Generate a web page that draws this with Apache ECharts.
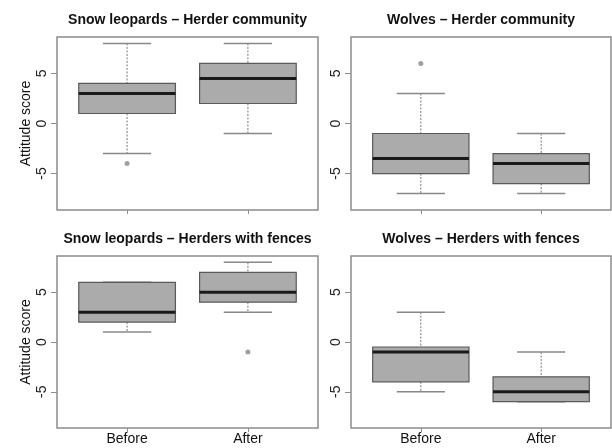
<!DOCTYPE html>
<html>
<head>
<meta charset="utf-8">
<script src="https://cdn.jsdelivr.net/npm/echarts@6/dist/echarts.min.js"></script>
<style>html,body{margin:0;padding:0;background:#fff}#c{width:612px;height:448px}</style>
</head>
<body>
<div id="c"></div>
<script>
// ---- data ----
const categories = ['Before', 'After'];
const panelTitles = [
  'Snow leopards – Herder community',
  'Wolves – Herder community',
  'Snow leopards – Herders with fences',
  'Wolves – Herders with fences'
];
const yTicks = [-5, 0, 5];
const yName = 'Attitude score';
// [lower whisker, Q1, median, Q3, upper whisker] for Before, After
const snowHerder   = [[-3, 1, 3, 4, 8], [-1, 2, 4.5, 6, 8]];
const wolvesHerder = [[-7, -5, -3.5, -1, 3], [-7, -6, -4, -3, -1]];
const snowFences   = [[1, 2, 3, 6, 6], [3, 4, 5, 7, 8]];
const wolvesFences = [[-5, -4, -1, -0.5, 3], [-6, -6, -5, -3.5, -1]];
// outliers [category position (1=Before, 2=After), value]
const snowHerderOut   = [[1, -4]];
const wolvesHerderOut = [[1, 6]];
const snowFencesOut   = [[2, -1]];
const wolvesFencesOut = [];

const panels = [
  {stats: snowHerder, out: snowHerderOut},
  {stats: wolvesHerder, out: wolvesHerderOut},
  {stats: snowFences, out: snowFencesOut},
  {stats: wolvesFences, out: wolvesFencesOut}
];

// ---- layout ----
const gridPos = [
  {left: 57, top: 37, width: 261, height: 173},
  {left: 351, top: 37, width: 260, height: 173},
  {left: 57, top: 256, width: 261, height: 172},
  {left: 351, top: 256, width: 260, height: 172}
];
const FONT = 'Liberation Sans, Arial, sans-serif';
const frameColor = '#8c8c8c';
const boxFill = '#ababab';
const boxStroke = '#5a5a5a';

function renderBox(params, api) {
  const x = api.value(0);
  const lo = api.value(1), q1 = api.value(2), med = api.value(3), q3 = api.value(4), hi = api.value(5);
  const halfW = 0.4, capHalf = 0.2;
  const pL = api.coord([x - halfW, q3]);
  const pR = api.coord([x + halfW, q1]);
  const cTop = api.coord([x, hi]);
  const cQ3 = api.coord([x, q3]);
  const cQ1 = api.coord([x, q1]);
  const cLo = api.coord([x, lo]);
  const capL = api.coord([x - capHalf, hi])[0];
  const capR = api.coord([x + capHalf, hi])[0];
  const mL = api.coord([x - halfW, med]);
  const mR = api.coord([x + halfW, med]);
  const dashStyle = {stroke: '#777', lineWidth: 1, lineDash: [2, 1.5]};
  const solid = {stroke: '#888', lineWidth: 1.5};
  const children = [];
  if (hi > q3) {
    children.push({type: 'line', shape: {x1: cTop[0], y1: cTop[1], x2: cQ3[0], y2: cQ3[1]}, style: dashStyle});
  }
  children.push({type: 'line', shape: {x1: capL, y1: cTop[1], x2: capR, y2: cTop[1]}, style: solid});
  if (lo < q1) {
    children.push({type: 'line', shape: {x1: cQ1[0], y1: cQ1[1], x2: cLo[0], y2: cLo[1]}, style: dashStyle});
  }
  children.push({type: 'line', shape: {x1: capL, y1: cLo[1], x2: capR, y2: cLo[1]}, style: solid});
  children.push({type: 'rect', shape: {x: pL[0], y: pL[1], width: pR[0] - pL[0], height: pR[1] - pL[1]},
    style: {fill: boxFill, stroke: boxStroke, lineWidth: 1.2}});
  children.push({type: 'line', shape: {x1: mL[0], y1: mL[1], x2: mR[0], y2: mR[1]}, style: {stroke: '#1a1a1a', lineWidth: 3}});
  return {type: 'group', children};
}

const grid = [], xAxis = [], yAxis = [], series = [], title = [];
panels.forEach((p, i) => {
  const g = gridPos[i];
  grid.push({left: g.left, top: g.top, width: g.width, height: g.height, show: true,
    borderColor: frameColor, borderWidth: 1.5, backgroundColor: 'transparent'});
  title.push({text: panelTitles[i], left: g.left + g.width / 2 - 5, top: g.top - 29, textAlign: 'center',
    textStyle: {fontFamily: FONT, fontSize: 14, fontWeight: 'bold', color: '#111'}});
  const bottomRow = i >= 2;
  xAxis.push({type: 'value', gridIndex: i, min: 0.42, max: 2.58, position: 'bottom',
    axisLine: {show: false, onZero: false}, splitLine: {show: false},
    axisTick: {show: true, customValues: [1, 2], length: 4, lineStyle: {color: frameColor, width: 1}},
    axisLabel: {show: bottomRow, customValues: [1, 2], margin: 4, formatter: v => categories[Math.round(v) - 1],
      fontFamily: FONT, fontSize: 14, color: '#111'}});
  const leftCol = i % 2 === 0;
  yAxis.push({type: 'value', gridIndex: i, min: -8.64, max: 8.64, position: 'left',
    name: leftCol ? yName : '', nameLocation: 'middle', nameGap: 24,
    nameTextStyle: {fontFamily: FONT, fontSize: 14, color: '#111'},
    axisLine: {show: false, onZero: false}, splitLine: {show: false},
    axisTick: {show: true, customValues: yTicks, length: 6, lineStyle: {color: frameColor, width: 1}},
    axisLabel: {customValues: yTicks, rotate: 90, margin: 8, fontFamily: FONT, fontSize: 14, color: '#222',
      formatter: v => String(v)}});
  series.push({type: 'custom', xAxisIndex: i, yAxisIndex: i, renderItem: renderBox,
    encode: {x: 0, y: [1, 2, 3, 4, 5]},
    data: p.stats.map((s, k) => [k + 1].concat(s))});
  series.push({type: 'scatter', xAxisIndex: i, yAxisIndex: i, symbol: 'circle', symbolSize: 5,
    itemStyle: {color: '#888'}, data: p.out});
});

const chart = echarts.init(document.getElementById('c'), null, {renderer: 'canvas'});
chart.setOption({animation: false, backgroundColor: '#fff', title, grid, xAxis, yAxis, series});
</script>
</body>
</html>
